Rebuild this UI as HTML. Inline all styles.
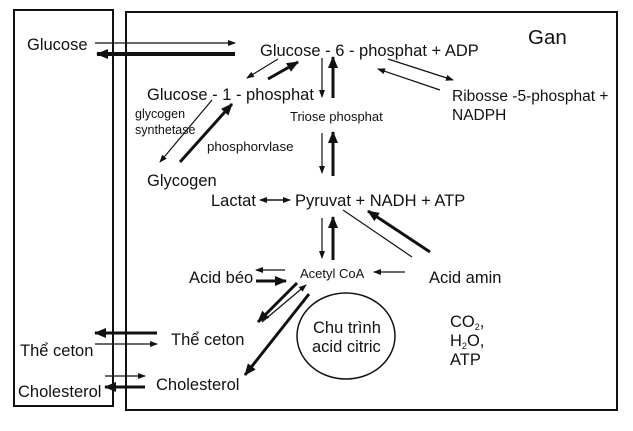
<!DOCTYPE html>
<html><head><meta charset="utf-8"><style>
body{margin:0;background:#fff}
svg text{font-family:"Liberation Sans",Arial,sans-serif;fill:#111}
</style></head><body>
<svg width="633" height="426" xmlns="http://www.w3.org/2000/svg">
<defs>
<marker id="a" markerWidth="8" markerHeight="6" refX="7" refY="3" orient="auto" markerUnits="userSpaceOnUse"><path d="M0,0 L8,3 L0,6 z" fill="#111"/></marker>
<marker id="b" markerWidth="12" markerHeight="10" refX="11" refY="5" orient="auto" markerUnits="userSpaceOnUse"><path d="M0,0 L12,5 L0,10 z" fill="#111"/></marker>
</defs>
<rect x="14" y="10" width="99" height="396" fill="none" stroke="#111" stroke-width="2"/>
<rect x="126" y="12" width="491" height="398" fill="none" stroke="#111" stroke-width="2"/>
<g stroke="#111" fill="none">
<line x1="95" y1="43" x2="235" y2="43" stroke-width="1.2" marker-end="url(#a)"/>
<line x1="235" y1="54" x2="97" y2="54" stroke-width="4" marker-end="url(#b)"/>
<line x1="278" y1="59" x2="247" y2="78" stroke-width="1.2" marker-end="url(#a)"/>
<line x1="268" y1="79" x2="298" y2="62" stroke-width="3" marker-end="url(#b)"/>
<line x1="322" y1="58" x2="322" y2="97" stroke-width="1.2" marker-end="url(#a)"/>
<line x1="333" y1="98" x2="333" y2="57" stroke-width="3" marker-end="url(#b)"/>
<line x1="322" y1="133" x2="322" y2="173" stroke-width="1.2" marker-end="url(#a)"/>
<line x1="333" y1="176" x2="333" y2="132" stroke-width="3" marker-end="url(#b)"/>
<line x1="388" y1="59" x2="453" y2="80" stroke-width="1.2" marker-end="url(#a)"/>
<line x1="440" y1="90" x2="378" y2="69" stroke-width="1.2" marker-end="url(#a)"/>
<line x1="212" y1="100" x2="160" y2="162" stroke-width="1.2" marker-end="url(#a)"/>
<line x1="180" y1="162" x2="232" y2="104" stroke-width="3" marker-end="url(#b)"/>
<line x1="263" y1="200" x2="290" y2="200" stroke-width="1.2" marker-end="url(#a)"/>
<line x1="285" y1="200" x2="260" y2="200" stroke-width="1.2" marker-end="url(#a)"/>
<line x1="322" y1="218" x2="322" y2="258" stroke-width="1.2" marker-end="url(#a)"/>
<line x1="333" y1="260" x2="333" y2="217" stroke-width="3" marker-end="url(#b)"/>
<line x1="343" y1="210" x2="412" y2="257" stroke-width="1.2"/>
<line x1="430" y1="252" x2="368" y2="211" stroke-width="3" marker-end="url(#b)"/>
<line x1="405" y1="272" x2="374" y2="272" stroke-width="1.2" marker-end="url(#a)"/>
<line x1="285" y1="270" x2="256" y2="270" stroke-width="1.2" marker-end="url(#a)"/>
<line x1="256" y1="281" x2="286" y2="281" stroke-width="3" marker-end="url(#b)"/>
<line x1="297" y1="283" x2="258" y2="322" stroke-width="3" marker-end="url(#b)"/>
<line x1="262" y1="322" x2="306" y2="285" stroke-width="1.2" marker-end="url(#a)"/>
<line x1="309" y1="294" x2="245" y2="375" stroke-width="3" marker-end="url(#b)"/>
<line x1="157" y1="333" x2="95" y2="333" stroke-width="3" marker-end="url(#b)"/>
<line x1="95" y1="344" x2="157" y2="344" stroke-width="1.2" marker-end="url(#a)"/>
<line x1="105" y1="376" x2="145" y2="376" stroke-width="1.2" marker-end="url(#a)"/>
<line x1="145" y1="387" x2="105" y2="387" stroke-width="3" marker-end="url(#b)"/>
<ellipse cx="346" cy="336" rx="49" ry="43" stroke-width="1.5"/>
</g>
<g font-size="16.5">
<text x="27" y="50">Glucose</text>
<text x="260" y="56">Glucose - 6 - phosphat + ADP</text>
<text x="528" y="44" font-size="20.5">Gan</text>
<text x="147" y="100">Glucose - 1 - phosphat</text>
<text x="135" y="118" font-size="12.5">glycogen</text>
<text x="135" y="134" font-size="12.5">synthetase</text>
<text x="207" y="151" font-size="13.3">phosphorvlase</text>
<text x="147" y="186">Glycogen</text>
<text x="290" y="121" font-size="13">Triose phosphat</text>
<text x="452" y="101" font-size="15.5">Ribosse -5-phosphat +</text>
<text x="452" y="120" font-size="15.5">NADPH</text>
<text x="211" y="206">Lactat</text>
<text x="295" y="206">Pyruvat + NADH + ATP</text>
<text x="300" y="278" font-size="13">Acetyl CoA</text>
<text x="429" y="283">Acid amin</text>
<text x="189" y="283">Acid béo</text>
<text x="171" y="345">Thể ceton</text>
<text x="20" y="356">Thể ceton</text>
<text x="156" y="390">Cholesterol</text>
<text x="18" y="397">Cholesterol</text>
<text x="313" y="333">Chu trình</text>
<text x="312" y="352">acid citric</text>
<text x="450" y="327">CO<tspan font-size="9" dy="3">2</tspan><tspan dy="-3">,</tspan></text>
<text x="450" y="346">H<tspan font-size="9" dy="3">2</tspan><tspan dy="-3">O,</tspan></text>
<text x="450" y="365">ATP</text>
</g>
</svg>
</body></html>
